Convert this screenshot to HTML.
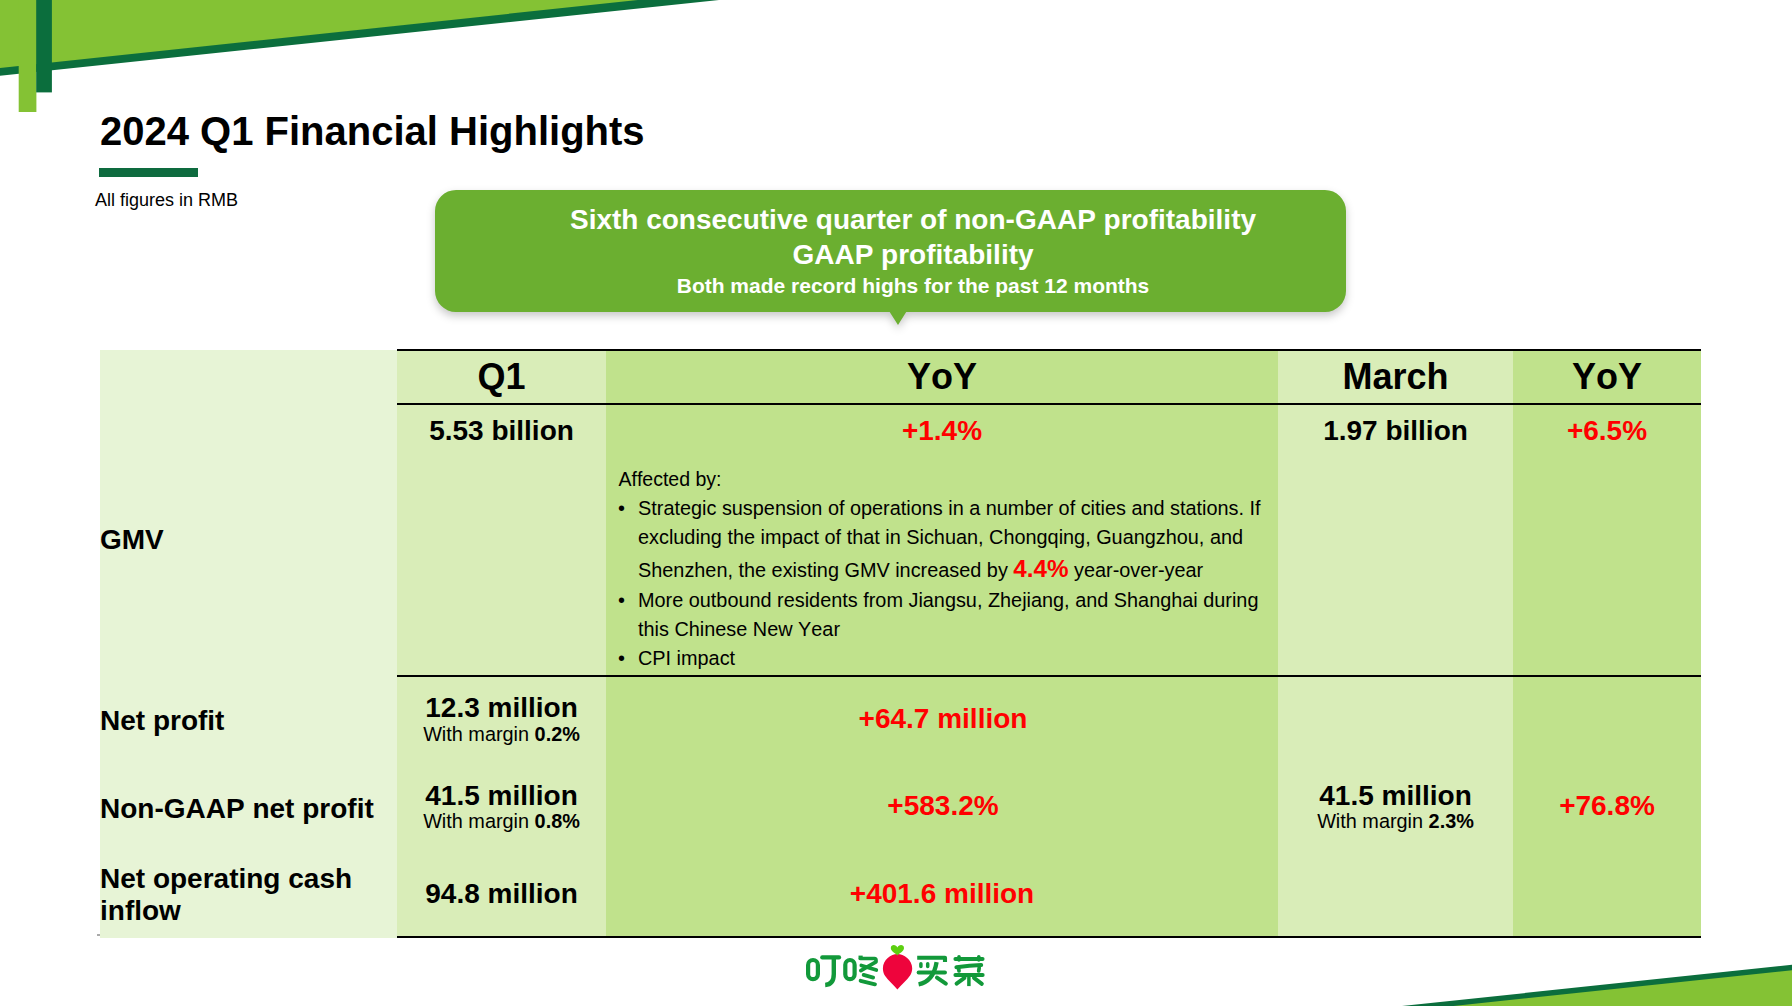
<!DOCTYPE html>
<html><head><meta charset="utf-8">
<style>
*{margin:0;padding:0;box-sizing:border-box}
html,body{width:1792px;height:1006px;overflow:hidden;background:#fff}
body{position:relative;font-family:"Liberation Sans",sans-serif;color:#000;font-kerning:none}
.a{position:absolute;white-space:nowrap;line-height:1}
.b{font-weight:bold}
.c{text-align:center}
.red{color:#f00}
.deco{position:absolute;left:0;top:0}
.bg{position:absolute}
.ln{position:absolute;left:397px;width:1304px;height:2px;background:#000}
</style></head><body>

<svg class="deco" width="1792" height="1006" viewBox="0 0 1792 1006">
  <polygon points="0,0 645,0 0,69" fill="#84c234"/>
  <polygon points="0,68.1 637.7,0 719,0 0,75.8" fill="#0b6e3d"/>
  <rect x="18.7" y="0" width="17.7" height="112" fill="#84c234"/>
  <rect x="36.2" y="0" width="15.7" height="92.4" fill="#0b6e3d"/>
  <polygon points="1440,1006 1792,968 1792,1006" fill="#84c234"/>
  <polygon points="1402,1006 1792,964.8 1792,970.3 1352,1016.7" fill="#0b6e3d"/>
</svg>

<div class="a b" style="left:100px;top:111px;font-size:40px">2024 Q1 Financial Highlights</div>
<div class="bg" style="left:99px;top:168px;width:99px;height:9px;background:#0e6b3f"></div>
<div class="a" style="left:95px;top:191px;font-size:18px">All figures in RMB</div>

<!-- callout -->
<div style="position:absolute;left:0;top:0;width:1792px;height:400px;filter:drop-shadow(0 4px 4px rgba(0,0,0,0.22))">
<svg style="position:absolute;left:0;top:0" width="1792" height="400" viewBox="0 0 1792 400">
<path d="M456,190 H1325 A21,21 0 0 1 1346,211 V291 A21,21 0 0 1 1325,312 H906.2 L898,325 L889.7,312 H456 A21,21 0 0 1 435,291 V211 A21,21 0 0 1 456,190 Z" fill="#6baf30"/>
</svg>
</div>
<div class="a b c" style="left:413px;width:1000px;top:206px;font-size:28px;color:#fff">Sixth consecutive quarter of non-GAAP profitability</div>
<div class="a b c" style="left:413px;width:1000px;top:241px;font-size:28px;color:#fff">GAAP profitability</div>
<div class="a b c" style="left:413px;width:1000px;top:275px;font-size:21px;color:#fff">Both made record highs for the past 12 months</div>

<!-- table backgrounds -->
<div class="bg" style="left:100px;top:350px;width:297px;height:588px;background:#e7f4d6"></div>
<div class="bg" style="left:397px;top:350px;width:209px;height:588px;background:#d9edb8"></div>
<div class="bg" style="left:606px;top:350px;width:672px;height:588px;background:#c0e28c"></div>
<div class="bg" style="left:1278px;top:350px;width:235px;height:588px;background:#d9edb8"></div>
<div class="bg" style="left:1513px;top:350px;width:188px;height:588px;background:#c0e28c"></div>
<div class="bg" style="left:97px;top:934px;width:3px;height:2px;background:#aaa"></div>
<!-- lines -->
<div class="ln" style="top:349px"></div>
<div class="ln" style="top:403px"></div>
<div class="ln" style="top:675px"></div>
<div class="ln" style="top:936px"></div>

<!-- header -->
<div class="a b c" style="left:397px;width:209px;top:359px;font-size:36px">Q1</div>
<div class="a b c" style="left:606px;width:672px;top:359px;font-size:36px">YoY</div>
<div class="a b c" style="left:1278px;width:235px;top:359px;font-size:36px">March</div>
<div class="a b c" style="left:1513px;width:188px;top:359px;font-size:36px">YoY</div>

<!-- GMV row -->
<div class="a b" style="left:100px;top:526px;font-size:28px">GMV</div>
<div class="a b c" style="left:397px;width:209px;top:417px;font-size:28px">5.53 billion</div>
<div class="a b c red" style="left:606px;width:672px;top:417px;font-size:28px">+1.4%</div>
<div class="a b c" style="left:1278px;width:235px;top:417px;font-size:28px">1.97 billion</div>
<div class="a b c red" style="left:1513px;width:188px;top:417px;font-size:28px">+6.5%</div>

<div class="a" style="left:618.5px;top:470px;font-size:19.5px">Affected by:</div>
<div class="a" style="left:618px;top:499px;font-size:19.86px">•</div>
<div class="a" style="left:638px;top:499px;font-size:19.86px">Strategic suspension of operations in a number of cities and stations. If</div>
<div class="a" style="left:638px;top:528px;font-size:19.86px">excluding the impact of that in Sichuan, Chongqing, Guangzhou, and</div>
<div class="a" style="left:638px;top:561px;font-size:19.86px">Shenzhen, the existing GMV increased by <span class="b red" style="font-size:24.2px;line-height:0">4.4%</span> year-over-year</div>
<div class="a" style="left:618px;top:591px;font-size:19.86px">•</div>
<div class="a" style="left:638px;top:591px;font-size:19.86px">More outbound residents from Jiangsu, Zhejiang, and Shanghai during</div>
<div class="a" style="left:638px;top:620px;font-size:19.86px">this Chinese New Year</div>
<div class="a" style="left:618px;top:649px;font-size:19.86px">•</div>
<div class="a" style="left:638px;top:649px;font-size:19.86px">CPI impact</div>

<!-- Net profit -->
<div class="a b" style="left:100px;top:707px;font-size:28px">Net profit</div>
<div class="a b c" style="left:397px;width:209px;top:694px;font-size:28px">12.3 million</div>
<div class="a c" style="left:397px;width:209px;top:725px;font-size:19.86px">With margin <b>0.2%</b></div>
<div class="a b c red" style="left:607px;width:672px;top:705px;font-size:28px">+64.7 million</div>

<!-- Non-GAAP -->
<div class="a b" style="left:100px;top:795px;font-size:28px">Non-GAAP net profit</div>
<div class="a b c" style="left:397px;width:209px;top:782px;font-size:28px">41.5 million</div>
<div class="a c" style="left:397px;width:209px;top:812px;font-size:19.86px">With margin <b>0.8%</b></div>
<div class="a b c red" style="left:607px;width:672px;top:792px;font-size:28px">+583.2%</div>
<div class="a b c" style="left:1278px;width:235px;top:782px;font-size:28px">41.5 million</div>
<div class="a c" style="left:1278px;width:235px;top:812px;font-size:19.86px">With margin <b>2.3%</b></div>
<div class="a b c red" style="left:1513px;width:188px;top:792px;font-size:28px">+76.8%</div>

<!-- cash -->
<div class="a b" style="left:100px;top:865px;font-size:28px">Net operating cash</div>
<div class="a b" style="left:100px;top:897px;font-size:28px">inflow</div>
<div class="a b c" style="left:397px;width:209px;top:880px;font-size:28px">94.8 million</div>
<div class="a b c red" style="left:606px;width:672px;top:880px;font-size:28px">+401.6 million</div>

<!-- logo -->
<svg style="position:absolute;left:800px;top:940px" width="195" height="55" viewBox="800 940 195 55">
  <g fill="none" stroke="#12993a" stroke-width="4" stroke-linecap="round" stroke-linejoin="round">
    <!-- 叮 -->
    <rect x="808.1" y="960.0" width="9.8" height="19.2" rx="4.9" stroke-width="4.2"/>
    <path d="M822.3,957.4 H839" stroke-width="4.3"/>
    <path d="M833.8,958 V974 Q833.8,984.5 825.2,985" stroke-width="4.4" stroke-linecap="butt"/>
    <!-- 咚 -->
    <rect x="845.3" y="960.0" width="9.3" height="19.2" rx="4.65" stroke-width="4.2"/>
    <path d="M860.6,955.6 V959.5" stroke-width="4.2" stroke-linecap="butt"/>
    <path d="M860.5,958.5 H874.5 Q876,958.5 876,960.2 V961.8 L860.8,970.6" stroke-width="3.7"/>
    <path d="M861.3,965.4 L876.3,970.1" stroke-width="3.7"/>
    <path d="M863.6,974.9 L873.2,977.6" stroke-width="3.7"/>
    <path d="M860.6,980.8 L875,984.4" stroke-width="3.8"/>
    <!-- 买 -->
    <path d="M917.2,957.7 H945 V962" stroke-width="4.1" stroke-linecap="butt"/>
    <path d="M920.9,963.8 V966.5 M927.7,963.8 V966.5" stroke-width="3.5"/>
    <path d="M936.6,962.2 C935,972 931,982 918.6,984.4" stroke-width="4.3" stroke-linecap="butt"/>
    <path d="M918.6,972.5 H945" stroke-width="3.9"/>
    <path d="M937,977.6 L945.8,983.6" stroke-width="4.1"/>
    <!-- 菜 -->
    <path d="M955.4,959 H982.6" stroke-width="3.9"/>
    <path d="M959,956.8 V960 M978.8,956.8 V960" stroke-width="3.6"/>
    <path d="M956.4,967.2 Q970,965.6 981.2,965" stroke-width="4"/>
    <path d="M958.5,967.8 L959,971 M979.2,967.8 L978.7,971" stroke-width="3.7"/>
    <path d="M955.4,975 H982.7" stroke-width="3.9"/>
    <path d="M968.9,976 V986.1" stroke-width="3.5" stroke-linecap="butt"/>
    <path d="M964.5,977.8 L956.6,983.6" stroke-width="4"/>
    <path d="M974,977.8 L981.8,983.8" stroke-width="4"/>
  </g>
  <!-- radish -->
  <path d="M897.4,989.6 C893,984.5 887.8,979.8 885,975.8 C883.4,973.4 882.9,970.6 882.9,968.2 C882.9,959.5 891,953.9 897.4,953.9 C903.8,953.9 912.2,959.5 912.2,968.2 C912.2,970.6 911.6,973.4 909.9,975.8 C907.1,979.8 901.8,984.5 897.4,989.6 Z" fill="#ee043c"/>
  <path d="M897.4,955.5 C895.5,953 890.8,951.5 890.8,948 C890.8,945.9 892.4,945.1 893.7,945.1 C895.4,945.1 896.8,946.3 897.4,947.6 C898,946.3 899.4,945.1 901.1,945.1 C902.4,945.1 904,945.9 904,948 C904,951.5 899.3,953 897.4,955.5 Z" fill="#5ccf10"/>
</svg>

</body></html>
